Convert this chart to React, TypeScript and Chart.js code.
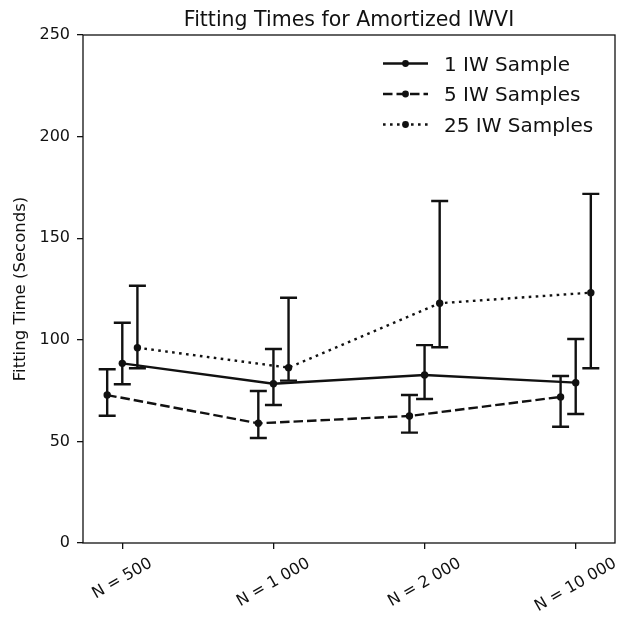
import { useEffect, useRef } from 'react';
import { Chart, registerables } from 'chart.js';

Chart.register(...registerables);

// ---- data ----
const categories = ['N = 500', 'N = 1 000', 'N = 2 000', 'N = 10 000'];
const seriesNames = ['1 IW Sample', '5 IW Samples', '25 IW Samples'];

const mean1 = [88.4, 78.4, 82.7, 78.9];
const low1 = [78.1, 67.9, 70.9, 63.5];
const high1 = [108.4, 95.5, 97.4, 100.4];

const mean5 = [72.8, 58.9, 62.5, 71.9];
const low5 = [62.6, 51.7, 54.3, 57.2];
const high5 = [85.5, 74.8, 72.8, 82.2];

const mean25 = [96.1, 86.3, 118.0, 123.2];
const low25 = [86.0, 79.9, 96.3, 86.0];
const high25 = [126.6, 120.7, 168.3, 171.8];

const yTickValues = [0, 50, 100, 150, 200, 250];

const means = [mean1, mean5, mean25];
const lows = [low1, low5, low25];
const highs = [high1, high5, high25];

// ---- styles ----
const INK = '#111111';
const FONT = "'DejaVu Sans', sans-serif";
const dodge = [0, -0.1, 0.1];
const dashes: number[][] = [[], [9.5, 4], [2.6, 4.4]];
const LW = 2.4;

const errorBarPlugin = {
  id: 'errorBars',
  beforeDatasetsDraw(chart: any) {
    const { ctx, scales } = chart;
    const xs = scales.x;
    const ys = scales.y;
    ctx.save();
    ctx.strokeStyle = INK;
    ctx.lineWidth = LW;
    ctx.setLineDash([]);
    chart.data.datasets.forEach((ds: any, di: number) => {
      ds.data.forEach((p: any, i: number) => {
        const px = xs.getPixelForValue(p.x);
        const yl = ys.getPixelForValue(lows[di][i]);
        const yh = ys.getPixelForValue(highs[di][i]);
        ctx.beginPath();
        ctx.moveTo(px, yl);
        ctx.lineTo(px, yh);
        ctx.moveTo(px - 8.5, yl);
        ctx.lineTo(px + 8.5, yl);
        ctx.moveTo(px - 8.5, yh);
        ctx.lineTo(px + 8.5, yh);
        ctx.stroke();
      });
    });
    ctx.restore();
  },
};

const decorPlugin = {
  id: 'decor',
  afterDraw(chart: any) {
    const { ctx, chartArea, scales } = chart;
    const { left, right, top, bottom } = chartArea;
    ctx.save();
    // spines
    ctx.strokeStyle = INK;
    ctx.lineWidth = 1.3;
    ctx.setLineDash([]);
    ctx.strokeRect(left, top, right - left, bottom - top);

    // title
    ctx.fillStyle = INK;
    ctx.font = `20.5px ${FONT}`;
    ctx.textAlign = 'center';
    ctx.textBaseline = 'alphabetic';
    ctx.fillText('Fitting Times for Amortized IWVI', (left + right) / 2, 25.5);

    // x tick labels (rotated 30deg, centered on tick)
    ctx.font = `16px ${FONT}`;
    ctx.textAlign = 'center';
    ctx.textBaseline = 'middle';
    const rot = (30 * Math.PI) / 180;
    categories.forEach((lab, i) => {
      const px = scales.x.getPixelForValue(i);
      const w = ctx.measureText(lab).width;
      const H = w * Math.sin(rot) + 12 * Math.cos(rot);
      const cy = 557 + H / 2;
      ctx.save();
      ctx.translate(px, cy);
      ctx.rotate(-rot);
      ctx.fillText(lab, 0, 0);
      ctx.restore();
    });

    // legend
    const rows = [63.5, 94, 124.5];
    seriesNames.forEach((name, i) => {
      const yy = rows[i];
      ctx.strokeStyle = INK;
      ctx.lineWidth = LW;
      ctx.setLineDash(dashes[i]);
      ctx.beginPath();
      ctx.moveTo(383, yy);
      ctx.lineTo(428, yy);
      ctx.stroke();
      ctx.setLineDash([]);
      ctx.beginPath();
      ctx.arc(405.5, yy, 3.4, 0, Math.PI * 2);
      ctx.fill();
      ctx.font = `20px ${FONT}`;
      ctx.textAlign = 'left';
      ctx.textBaseline = 'alphabetic';
      ctx.fillText(name, 444, yy + 7.3);
    });
    ctx.restore();
  },
};

export default function App() {
  const ref = useRef<HTMLCanvasElement | null>(null);

  useEffect(() => {
    if (!ref.current) return;
    const datasets = seriesNames.map((name, si) => ({
      label: name,
      data: means[si].map((v, i) => ({ x: i + dodge[si], y: v })),
      borderColor: INK,
      backgroundColor: INK,
      borderWidth: LW,
      borderDash: dashes[si],
      borderCapStyle: 'butt' as const,
      pointRadius: 3.7,
      pointHoverRadius: 3.7,
      pointBorderWidth: 0,
      pointBackgroundColor: INK,
      tension: 0,
      fill: false,
    }));

    const chart = new Chart(ref.current, {
      type: 'line',
      data: { datasets },
      plugins: [errorBarPlugin, decorPlugin],
      options: {
        animation: false,
        responsive: false,
        devicePixelRatio: 1,
        layout: { padding: { left: 0, right: 6, top: 35, bottom: 0 } },
        plugins: {
          legend: { display: false },
          title: { display: false },
          tooltip: { enabled: false },
        },
        scales: {
          x: {
            type: 'linear',
            min: -0.26,
            max: 3.26,
            afterBuildTicks: (scale: any) => {
              scale.ticks = categories.map((_, i) => ({ value: i }));
            },
            afterFit: (scale: any) => {
              scale.height = 77;
            },
            ticks: { display: false },
            border: { display: false },
            grid: {
              display: true,
              drawOnChartArea: false,
              drawTicks: true,
              tickLength: 6,
              color: INK,
              lineWidth: 1.3,
            },
          },
          y: {
            type: 'linear',
            min: 0,
            max: 250,
            afterBuildTicks: (scale: any) => {
              scale.ticks = yTickValues.map((v) => ({ value: v }));
            },
            afterFit: (scale: any) => {
              scale.width = 83;
            },
            ticks: {
              color: INK,
              font: { family: FONT, size: 16 },
              padding: 7,
            },
            border: { display: false },
            grid: {
              display: true,
              drawOnChartArea: false,
              drawTicks: true,
              tickLength: 6,
              color: INK,
              lineWidth: 1.3,
            },
            title: {
              display: true,
              text: 'Fitting Time (Seconds)',
              color: INK,
              font: { family: FONT, size: 16.5 },
              padding: { top: 11, bottom: 0 },
            },
          },
        },
      },
    });
    return () => chart.destroy();
  }, []);

  return (
    <div style={{ position: 'absolute', left: 0, top: 0, width: 621, height: 620, background: '#fff' }}>
      <canvas ref={ref} width={621} height={620} style={{ display: 'block' }} />
    </div>
  );
}
